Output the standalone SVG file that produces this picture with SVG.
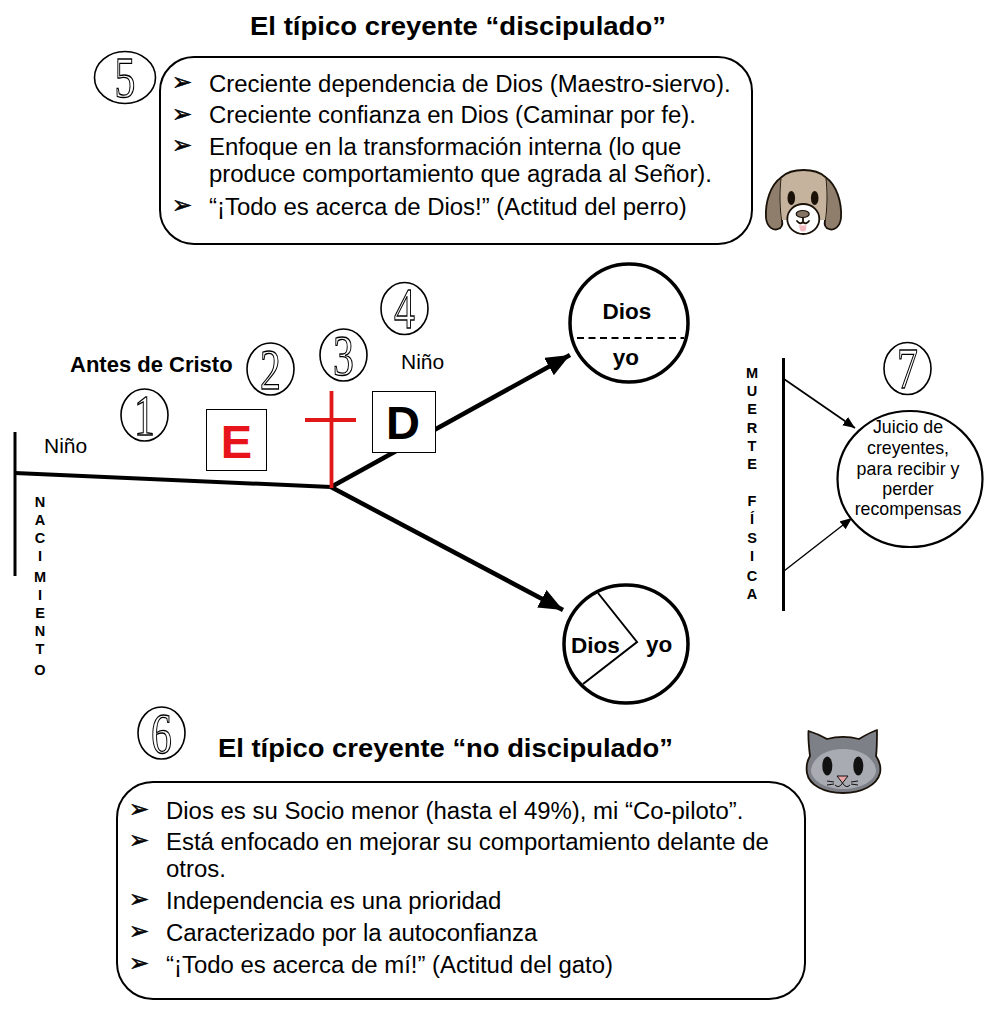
<svg xmlns="http://www.w3.org/2000/svg" width="1004" height="1024" viewBox="0 0 1004 1024">
<defs>
<style>
text{font-family:"Liberation Sans",Arial,sans-serif;fill:#000}
.title{font-size:25px;font-weight:700}
.body{font-size:23.95px}
.bul{font-family:"DejaVu Sans",sans-serif;font-size:24px;stroke:#000;stroke-width:.5px}
.lab{font-size:21px}
.b{font-size:22.5px;font-weight:700}
.v{font-size:14.5px;font-weight:700;text-anchor:middle}
.j{font-size:17.8px;text-anchor:middle}
.num{font-family:"Liberation Serif",serif;font-size:58px;fill:#fff;stroke:#000;stroke-width:1.3px;text-anchor:middle}
.oval{fill:#fff;stroke:#000;stroke-width:1.6}
.box{fill:#fff;stroke:#000;stroke-width:2}
.o{stroke:#1a1208;stroke-width:1.8;stroke-linejoin:round;stroke-linecap:round}
</style>
<marker id="big" markerUnits="userSpaceOnUse" markerWidth="26" markerHeight="22" refX="24" refY="10" orient="auto"><path d="M0 0L24 10L0 20Z" fill="#000"/></marker>
<marker id="small" markerUnits="userSpaceOnUse" markerWidth="14" markerHeight="12" refX="12" refY="5" orient="auto"><path d="M0 0L12 5L0 10Z" fill="#000"/></marker>
</defs>
<rect width="1004" height="1024" fill="#fff"/>

<g id="connectors" fill="none" stroke="#000">
<line x1="15" y1="432" x2="15" y2="576" stroke-width="3"/>
<line x1="15" y1="473" x2="331" y2="487" stroke-width="4"/>
<line x1="331" y1="487" x2="570" y2="355" stroke-width="4.5" marker-end="url(#big)"/>
<line x1="331" y1="487" x2="563" y2="610" stroke-width="4.5" marker-end="url(#big)"/>
<line x1="783.5" y1="358" x2="783.5" y2="611" stroke-width="3"/>
<line x1="784" y1="379" x2="855" y2="428" stroke-width="1.7" marker-end="url(#small)"/>
<line x1="784" y1="571" x2="852" y2="518" stroke-width="1.4" marker-end="url(#small)"/>
</g>

<g id="title-top"><text class="title" x="250" y="35" textLength="416" lengthAdjust="spacingAndGlyphs">El típico creyente “discipulado”</text></g>
<g id="box-discipulado">
<rect class="box" x="160" y="57" width="592" height="187" rx="34"/>
<text class="bul" x="172" y="90">➢</text><text class="body" x="209" y="92">Creciente dependencia de Dios (Maestro-siervo).</text>
<text class="bul" x="172" y="122">➢</text><text class="body" x="209" y="123">Creciente confianza en Dios (Caminar por fe).</text>
<text class="bul" x="172" y="153">➢</text><text class="body" x="209" y="155">Enfoque en la transformación interna (lo que</text>
<text class="body" x="209" y="182">produce comportamiento que agrada al Señor).</text>
<text class="bul" x="172" y="213">➢</text><text class="body" x="209" y="215">“¡Todo es acerca de Dios!” (Actitud del perro)</text>
</g>

<g id="n5"><ellipse class="oval" cx="125" cy="77.5" rx="30.5" ry="26"/><text class="num" transform="translate(125 97) scale(.72 1)">5</text></g>
<g id="n1"><ellipse class="oval" cx="144.5" cy="415" rx="23.5" ry="26"/><text class="num" transform="translate(144.5 435) scale(.72 1)">1</text></g>
<g id="n2"><ellipse class="oval" cx="270.5" cy="369" rx="23.5" ry="26"/><text class="num" transform="translate(270.5 389) scale(.72 1)">2</text></g>
<g id="n3"><ellipse class="oval" cx="343.5" cy="355" rx="23.5" ry="26"/><text class="num" transform="translate(343.5 375) scale(.72 1)">3</text></g>
<g id="n4"><ellipse class="oval" cx="404.5" cy="308.5" rx="23.5" ry="26"/><text class="num" transform="translate(404.5 328) scale(.72 1)">4</text></g>
<g id="n6"><ellipse class="oval" cx="161.5" cy="733" rx="23.5" ry="26"/><text class="num" transform="translate(161.5 753) scale(.72 1)">6</text></g>
<g id="n7"><ellipse class="oval" cx="907.5" cy="368.5" rx="23.5" ry="26"/><text class="num" transform="translate(907.5 388) scale(.72 1)">7</text></g>

<g id="dog">
<path class="o" d="M781.700 177C770 185 765 203 766 218C767 227 773 231 778 229C782 228 783 225 782 220C780 205 780 190 781.700 177Z" fill="#8f7e6b"/>
<path class="o" d="M825.300 177C837 185 842 203 841 218C840 227 834 231 829 229C825 228 824 225 825 220C827 205 827 190 825.300 177Z" fill="#8f7e6b"/>
<path d="M781.700 177C787 172 795 170 803.500 170C812 170 820 172 825.300 177C827 190 827 205 825 220L782 220C780 205 780 190 781.700 177Z" fill="#c5b39d"/>
<path class="o" d="M781.700 177C787 172 795 170 803.500 170C812 170 820 172 825.300 177" fill="none"/>
<ellipse cx="791.300" cy="198" rx="3.800" ry="7" fill="#1a1208"/>
<ellipse cx="814.700" cy="198" rx="3.800" ry="7" fill="#1a1208"/>
<ellipse class="o" cx="803.300" cy="219" rx="16" ry="15" fill="#fff"/>
<ellipse cx="802.700" cy="214" rx="6.500" ry="3.500" fill="#857565" stroke="#1a1208" stroke-width="1.200"/>
<path d="M799 225Q803 226 806.500 225L806 230Q803 233 800 230Z" fill="#f2b8c0"/>
<path class="o" d="M797 221Q800 225 803 222Q806 225 809 221M803 218V222" fill="none" stroke-width="1.200"/>
</g>

<g id="diagram-circle-dios-yo">
<circle cx="629" cy="323" r="59" fill="#fff" stroke="#000" stroke-width="3.500"/>
<line x1="577" y1="338" x2="684" y2="338" stroke="#000" stroke-width="1.800" stroke-dasharray="7 4.500"/>
<text class="b" x="627" y="319" text-anchor="middle">Dios</text>
<text class="b" x="626" y="365" text-anchor="middle">yo</text>
</g>
<g id="diagram-circle-dios-yo-2">
<ellipse cx="626" cy="644" rx="62" ry="59" fill="#fff" stroke="#000" stroke-width="3.500"/>
<path d="M598 593L637 642L583 684" fill="none" stroke="#000" stroke-width="2"/>
<text class="b" x="571" y="653">Dios</text>
<text class="b" x="646" y="652">yo</text>
</g>

<g id="label-antes"><text x="70" y="372" style="font-size:22px;font-weight:700">Antes de Cristo</text></g>
<g id="label-nino1"><text class="lab" x="44" y="453">Niño</text></g>
<g id="label-nino2"><text class="lab" x="401" y="369">Niño</text></g>

<g id="node-E"><rect x="206.500" y="409.500" width="60" height="61" fill="#fff" stroke="#000"/><text x="236.500" y="458" text-anchor="middle" style="font-size:47px;font-weight:700;fill:#e8141c">E</text></g>
<g id="node-D"><rect x="372.500" y="391.500" width="63" height="61" fill="#fff" stroke="#000"/><text x="403" y="439" text-anchor="middle" style="font-size:47px;font-weight:700">D</text></g>
<g id="cross" stroke="#e01818" stroke-width="3.800"><line x1="331.500" y1="391" x2="331.500" y2="488"/><line x1="305" y1="420" x2="356" y2="420"/></g>

<g id="nacimiento">
<text class="v" x="40" y="507">N</text><text class="v" x="40" y="525">A</text><text class="v" x="40" y="543">C</text><text class="v" x="40" y="561">I</text><text class="v" x="40" y="582">M</text><text class="v" x="40" y="600">I</text><text class="v" x="40" y="618">E</text><text class="v" x="40" y="636">N</text><text class="v" x="40" y="654">T</text><text class="v" x="40" y="675">O</text>
</g>
<g id="muerte">
<text class="v" x="752" y="378">M</text><text class="v" x="752" y="396">U</text><text class="v" x="752" y="414">E</text><text class="v" x="752" y="433">R</text><text class="v" x="752" y="451">T</text><text class="v" x="752" y="469">E</text><text class="v" x="752" y="506">F</text><text class="v" x="752" y="524">Í</text><text class="v" x="752" y="543">S</text><text class="v" x="752" y="561">I</text><text class="v" x="752" y="581">C</text><text class="v" x="752" y="599">A</text>
</g>

<g id="juicio">
<ellipse cx="910" cy="479" rx="72.500" ry="68" fill="#fff" stroke="#000" stroke-width="2.200"/>
<text class="j" x="908" y="433">Juicio de</text>
<text class="j" x="908" y="454">creyentes,</text>
<text class="j" x="908" y="475">para recibir y</text>
<text class="j" x="908" y="495">perder</text>
<text class="j" x="908" y="515">recompensas</text>
</g>

<g id="title-bottom"><text class="title" x="218" y="757" textLength="455" lengthAdjust="spacingAndGlyphs">El típico creyente “no discipulado”</text></g>

<g id="cat">
<path class="o" d="M808.500 731C815 733 822 736 827 739C838 736 848 736 859 739C864 736 871 732 877 730C877 740 877 749 876 756C880 762 881 768 880 773C877 785 862 793 843 793C824 793 809 785 807 773C806 767 807 761 810 756C809 748 808 740 808.500 731Z" fill="#7e8088"/>
<path d="M811 770C813 757 826 749 843 749C860 749 874 757 876 770C876 781 860 789 843 789C826 789 811 781 811 770Z" fill="#a9abb2"/>
<ellipse cx="827.300" cy="766" rx="5" ry="9.500" fill="#111"/>
<ellipse cx="858.300" cy="766" rx="5" ry="9.500" fill="#111"/>
<path d="M837 776H848L842.500 783Z" fill="#e8a5a5" stroke="#111" stroke-width="1"/>
<path d="M835 785Q839 789 842.500 783Q846 789 850 785M827 781L834 782M827 785L834 784M851 782L858 781M851 784L858 785" fill="none" stroke="#111" stroke-width="1"/>
</g>

<g id="box-no-discipulado">
<rect class="box" x="117" y="782" width="688" height="217" rx="36"/>
<text class="bul" x="129" y="817">➢</text><text class="body" x="166" y="819">Dios es su Socio menor (hasta el 49%), mi “Co-piloto”.</text>
<text class="bul" x="129" y="848">➢</text><text class="body" x="166" y="850">Está enfocado en mejorar su comportamiento delante de</text>
<text class="body" x="166" y="877">otros.</text>
<text class="bul" x="129" y="907">➢</text><text class="body" x="166" y="909">Independencia es una prioridad</text>
<text class="bul" x="129" y="939">➢</text><text class="body" x="166" y="941">Caracterizado por la autoconfianza</text>
<text class="bul" x="129" y="971">➢</text><text class="body" x="166" y="973">“¡Todo es acerca de mí!” (Actitud del gato)</text>
</g>
</svg>
